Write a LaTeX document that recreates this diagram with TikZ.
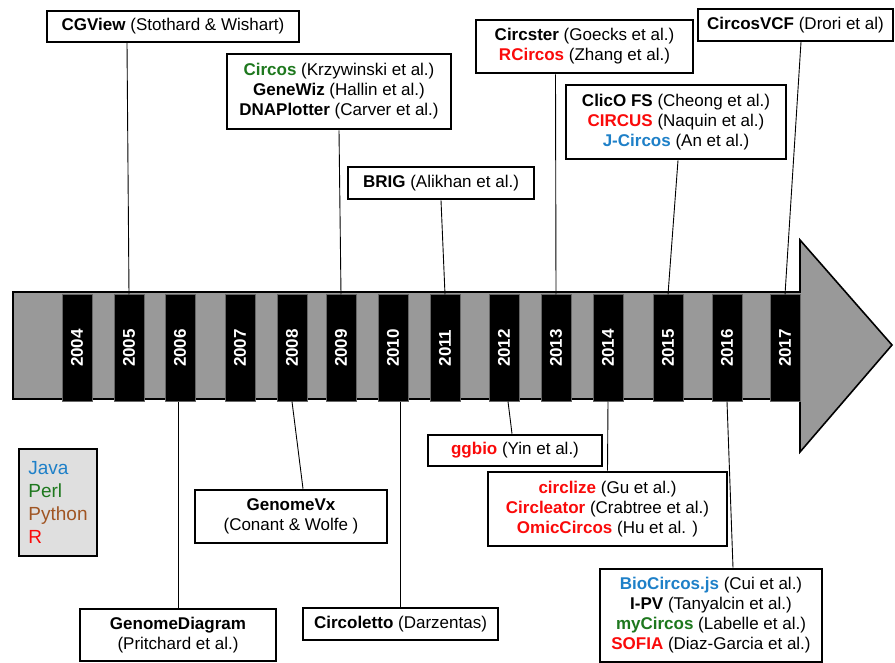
\documentclass[tikz,border=0pt]{standalone}
\usepackage{fontspec}
\setmainfont{Liberation Sans}
\usepackage{xcolor}
\usepackage{graphicx}
\usepackage{tikz}
\definecolor{javablue}{RGB}{30,128,200}
\definecolor{perlgreen}{RGB}{30,120,30}
\definecolor{pythonbrown}{RGB}{160,85,35}
\definecolor{rred}{RGB}{250,10,10}
\newcommand{\javatool}[1]{\textbf{\textcolor{javablue}{#1}}}
\newcommand{\perltool}[1]{\textbf{\textcolor{perlgreen}{#1}}}
\newcommand{\rtool}[1]{\textbf{\textcolor{rred}{#1}}}

\begin{document}
\begin{tikzpicture}[x=1pt,y=-1pt,font=\fontsize{17}{20}\selectfont]
\tikzset{tool/.style={draw,fill=white,line width=2.6pt,align=center,inner sep=0pt},
year/.style={fill=black,draw=black!60,line width=1pt,text=white,font=\fontsize{17}{20}\selectfont\bfseries,minimum width=30,minimum height=106,inner sep=0pt},
link/.style={line width=0.9pt}}
\useasboundingbox (0,0) rectangle (895,663);

% timeline arrow
\draw[fill=gray!80,line width=1.6pt,line join=miter] (13,292) -- (800,292) -- (800,240) -- (892,345) -- (800,452) -- (800,399) -- (13,399) -- cycle;

\node[year] (y2004) at (77,348) {\rotatebox{90}{2004}};
\node[year] (y2005) at (129,348) {\rotatebox{90}{2005}};
\node[year] (y2006) at (180,348) {\rotatebox{90}{2006}};
\node[year] (y2007) at (240,348) {\rotatebox{90}{2007}};
\node[year] (y2008) at (292,348) {\rotatebox{90}{2008}};
\node[year] (y2009) at (341,348) {\rotatebox{90}{2009}};
\node[year] (y2010) at (393,348) {\rotatebox{90}{2010}};
\node[year] (y2011) at (445,348) {\rotatebox{90}{2011}};
\node[year] (y2012) at (504,348) {\rotatebox{90}{2012}};
\node[year] (y2013) at (556,348) {\rotatebox{90}{2013}};
\node[year] (y2014) at (608,348) {\rotatebox{90}{2014}};
\node[year] (y2015) at (668,348) {\rotatebox{90}{2015}};
\node[year] (y2016) at (727,348) {\rotatebox{90}{2016}};
\node[year] (y2017) at (785,348) {\rotatebox{90}{2017}};

% tools above the line
\node[tool,line width=2pt,minimum width=252,minimum height=31] (cgview) at (173,26.5) {\textbf{CGView} (Stothard \& Wishart)};
\node[tool,minimum width=224,minimum height=75] (circos) at (339,91.5) {\perltool{Circos} (Krzywinski et al.)\\ \textbf{GeneWiz} (Hallin et al.)\\ \textbf{DNAPlotter} (Carver et al.)};
\node[tool,minimum width=186,minimum height=32] (brig) at (441,183) {\textbf{BRIG} (Alikhan et al.)};
\node[tool,minimum width=217,minimum height=53] (circster) at (584.5,46.5) {\textbf{Circster} (Goecks et al.)\\ \rtool{RCircos} (Zhang et al.)};
\node[tool,line width=2pt,minimum width=195,minimum height=32] (vcf) at (795.5,25) {\textbf{CircosVCF} (Drori et al)};
\node[tool,minimum width=220,minimum height=74] (clico) at (676,122) {\textbf{ClicO FS} (Cheong et al.)\\ \rtool{CIRCUS} (Naquin et al.)\\ \javatool{J-Circos} (An et al.)};

% tools below the line
\node[tool,line width=2pt,minimum width=196,minimum height=52] (gdiagram) at (178,635) {\textbf{GenomeDiagram}\\ (Pritchard et al.)};
\node[tool,minimum width=192,minimum height=53] (genomevx) at (291,516.5) {\textbf{GenomeVx}\\ (Conant \& Wolfe )};
\node[tool,line width=2pt,minimum width=195,minimum height=32] (circoletto) at (400.5,624) {\textbf{Circoletto} (Darzentas)};
\node[tool,minimum width=174,minimum height=31] (ggbio) at (515,450.5) {\rtool{ggbio} (Yin et al.)};
\node[tool,minimum width=239,minimum height=74] (circlize) at (607.5,509) {\rtool{circlize} (Gu et al.)\\ \rtool{Circleator} (Crabtree et al.)\\ \rtool{OmicCircos} (Hu et al. )};
\node[tool,minimum width=222,minimum height=93] (biocircos) at (711,615.5) {\javatool{BioCircos.js} (Cui et al.)\\ \textbf{I-PV} (Tanyalcin et al.)\\ \perltool{myCircos} (Labelle et al.)\\ \rtool{SOFIA} (Diaz-Garcia et al.)};

% legend
\node[tool,fill=gray!25,align=left,minimum width=78,minimum height=107,font=\fontsize{19}{23}\selectfont] (legend) at (58,502.5) {\textcolor{javablue}{Java}\\ \textcolor{perlgreen}{Perl}\\ \textcolor{pythonbrown}{Python}\\ \textcolor{rred}{R}};

\draw[link] (y2005.north) -- ([xshift=-46pt]cgview.south);
\draw[link] (y2009.north) -- (circos.south);
\draw[link] (y2011.north) -- (brig.south);
\draw[link] (y2013.north) -- ([xshift=-29pt]circster.south);
\draw[link] (y2015.north) -- ([xshift=2pt]clico.south);
\draw[link] (y2017.north) -- ([xshift=5.5pt]vcf.south);
\draw[link] (gdiagram.north) -- (gdiagram.north |- y2006.south);
\draw[link] (y2008.south) -- ([xshift=12pt]genomevx.north);
\draw[link] (circoletto.north) -- (circoletto.north |- y2010.south);
\draw[link] ([xshift=4pt]y2012.south) -- ([xshift=-3pt]ggbio.north);
\draw[link] (y2014.south) -- (circlize.north);
\draw[link] (y2016.south) -- ([xshift=22pt]biocircos.north);
\end{tikzpicture}
\end{document}
